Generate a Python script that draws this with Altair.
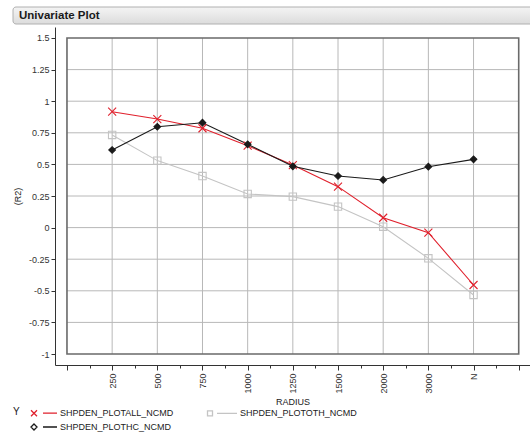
import altair as alt
import pandas as pd

# Radius categories along the x axis (positions 1..9)
radius_labels = ["250", "500", "750", "1000", "1250", "1500", "2000", "3000", "N"]

# R2 values per series
series_names = ["SHPDEN_PLOTALL_NCMD", "SHPDEN_PLOTOTH_NCMD", "SHPDEN_PLOTHC_NCMD"]
r2_all = [0.917, 0.859, 0.786, 0.648, 0.495, 0.324, 0.078, -0.04, -0.454]
r2_oth = [0.733, 0.530, 0.408, 0.266, 0.245, 0.166, 0.007, -0.243, -0.533]
r2_hc = [0.614, 0.798, 0.830, 0.659, 0.485, 0.408, 0.377, 0.482, 0.540]

y_ticks = [-1, -0.75, -0.5, -0.25, 0, 0.25, 0.5, 0.75, 1, 1.25, 1.5]

series_colors = ["#e0202c", "#c4c4c4", "#1a1a1a"]
series_fill = ["transparent", "transparent", "#1a1a1a"]
marker_shapes = ["M-1,-1L1,1M-1,1L1,-1", "square", "diamond"]
marker_sizes = [64, 44, 36]
# legend glyphs (unit = half symbol size): marker on the left, line segment on the right
legend_glyphs = [
    "M-4.2,-0.6L-3.0,0.6M-4.2,0.6L-3.0,-0.6M-1.8,0L1,0",
    "M-4.9,-0.5L-3.9,-0.5L-3.9,0.5L-4.9,0.5ZM-3,0L1,0",
    "M-3.6,-0.6L-3.0,0L-3.6,0.6L-4.2,0ZM-1.8,0L1,0",
]
# legend entries fill columns first: ALL, HC in the first column, OTH in the second
legend_order = [series_names[0], series_names[2], series_names[1]]

rows = []
for name, vals in zip(series_names, [r2_all, r2_oth, r2_hc]):
    for i, v in enumerate(vals):
        rows.append({"series": name, "pos": i + 1, "r2": v})
df = pd.DataFrame(rows)

X_DOMAIN = [-0.265, 10.25]
Y_DOMAIN = [-1.087, 1.587]
FONT = "Liberation Sans"

xs = alt.Scale(domain=X_DOMAIN, nice=False, zero=False)
ys = alt.Scale(domain=Y_DOMAIN, nice=False, zero=False)
color_scale = alt.Scale(domain=series_names, range=series_colors)

label_expr = "datum.value % 1 == 0 && datum.value >= 1 && datum.value <= 9 ? " + \
    "[" + ",".join("'%s'" % s for s in radius_labels) + "][datum.value - 1] : ''"

x_axis = alt.Axis(
    values=[i / 2 for i in range(0, 21)],
    labelExpr=label_expr,
    labelAngle=270,
    labelFont=FONT, labelFontSize=9, labelColor="#333333", labelPadding=3,
    labelOverlap=False,
    tickColor="#333333",
    tickSize={"condition": {"test": "datum.value % 1 == 0", "value": 5}, "value": 3},
    domainColor="#333333", grid=False,
    title="RADIUS", titleFont=FONT, titleFontSize=9, titleFontWeight="normal",
    titleColor="#222222", titlePadding=4,
)
y_axis = alt.Axis(
    values=y_ticks, labelExpr="'' + datum.value",
    labelFont=FONT, labelFontSize=9, labelColor="#333333", labelPadding=2,
    labelOverlap=False, labelFlush=False,
    tickColor="#333333", tickSize=4, domainColor="#333333", grid=False,
    title="(R2)", titleFont=FONT, titleFontSize=9, titleFontWeight="normal",
    titleColor="#222222", titlePadding=6,
)


def xenc(field):
    return alt.X(field, type="quantitative", scale=xs, axis=x_axis)


def yenc(field):
    return alt.Y(field, type="quantitative", scale=ys, axis=y_axis)


# interior grid lines
hgrid = pd.DataFrame({"v": [t for t in y_ticks if -1 < t < 1.5], "a": 0, "b": 10})
vgrid = pd.DataFrame({"p": list(range(1, 10)), "a": -1, "b": 1.5})
frame_df = pd.DataFrame({"x0": [0], "x1": [10], "y0": [-1], "y1": [1.5]})

frame = alt.Chart(frame_df).mark_rect(fill="transparent", stroke="#6a6a6a", strokeWidth=1.6).encode(
    x=xenc("x0"), x2="x1:Q", y=yenc("y0"), y2="y1:Q",
)

hgrid_layer = alt.Chart(hgrid).mark_rule(color="#b8b8b8", strokeWidth=1).encode(
    x=xenc("a"), x2="b:Q", y=yenc("v")
)
vgrid_layer = alt.Chart(vgrid).mark_rule(color="#b8b8b8", strokeWidth=1).encode(
    x=xenc("p"), y=yenc("a"), y2="b:Q"
)

lines = alt.Chart(df).mark_line(strokeWidth=1.1).encode(
    x=xenc("pos"),
    y=yenc("r2"),
    color=alt.Color("series:N", scale=color_scale, legend=None),
    order="pos:Q",
)

points = alt.Chart(df).mark_point(strokeWidth=1.1, opacity=1).encode(
    x=xenc("pos"),
    y=yenc("r2"),
    color=alt.Color("series:N", scale=color_scale, legend=None),
    fill=alt.Fill("series:N", scale=alt.Scale(domain=series_names, range=series_fill), legend=None),
    shape=alt.Shape("series:N", scale=alt.Scale(domain=series_names, range=marker_shapes), legend=None),
    size=alt.Size("series:N", scale=alt.Scale(domain=series_names, range=marker_sizes), legend=None),
)

legend_def = alt.Legend(
    title="Y", orient="none", legendX=-42, legendY=380, columns=2, columnPadding=30,
    rowPadding=2, titleOrient="left", titleAnchor="start", titleBaseline="top",
    titleFont=FONT, titleFontSize=10,
    titleFontWeight="normal", titleColor="#222222", titlePadding=26,
    labelFont=FONT, labelFontSize=9, labelColor="#222222", labelOffset=2,
    symbolSize=100, symbolStrokeWidth=1.3, symbolOpacity=1,
    symbolFillColor="transparent", values=legend_order,
)
legend_layer = alt.Chart(df).mark_point(opacity=0, filled=False).encode(
    x=xenc("pos"),
    y=yenc("r2"),
    stroke=alt.Stroke("series:N", scale=color_scale, legend=legend_def),
    shape=alt.Shape("series:N", scale=alt.Scale(domain=series_names, range=legend_glyphs), legend=legend_def),
)

title_df = pd.DataFrame({"t": ["Univariate Plot"]})
title_bar = alt.Chart(title_df).mark_rect(
    cornerRadius=3, stroke="#b0b0b0", strokeWidth=1,
    fill=alt.Gradient(gradient="linear", x1=0, y1=0, x2=0, y2=1,
                      stops=[alt.GradientStop(color="#f4f4f4", offset=0),
                             alt.GradientStop(color="#dcdcdc", offset=1)]),
).encode(x=alt.value(-42), x2=alt.value(490), y=alt.value(-20), y2=alt.value(-3))
title_text = alt.Chart(title_df).mark_text(
    font=FONT, fontSize=11.5, fontWeight="bold", color="#1a1a1a", align="left", baseline="middle"
).encode(x=alt.value(-36), y=alt.value(-11.5), text="t:N")

chart = alt.layer(
    hgrid_layer, vgrid_layer, frame, lines, points, legend_layer, title_bar, title_text
).resolve_scale(shape="independent", stroke="independent").properties(
    width=475, height=338,
    padding={"left": 55, "top": 27, "right": 0, "bottom": 79},
    autosize=alt.AutoSizeParams(type="none"),
    background="white",
).configure_view(stroke=None)

chart.save("out.html", embed_options={"renderer": "svg", "actions": False})
